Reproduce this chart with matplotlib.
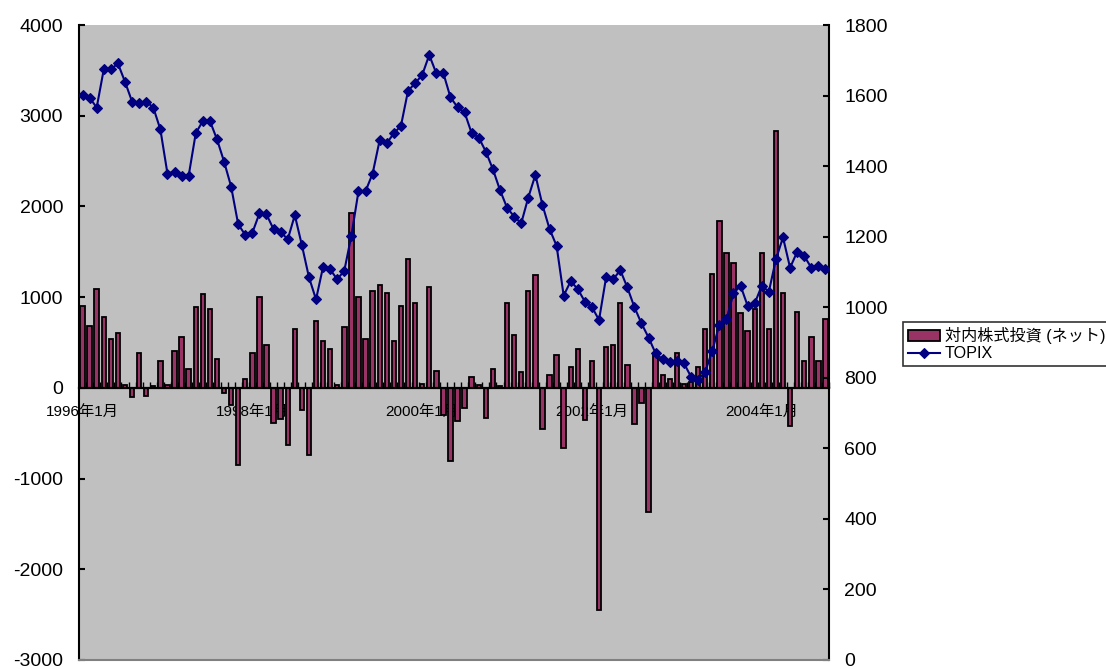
import numpy as np
import pandas as pd
import matplotlib
matplotlib.use("Agg")
import matplotlib.pyplot as plt
from matplotlib.ticker import MultipleLocator, FixedLocator

plt.rcParams['font.family'] = ['Liberation Sans', 'Noto Sans CJK JP']
plt.rcParams['axes.unicode_minus'] = False

# monthly series, Jan 1996 - Oct 2004
months = pd.date_range("1996-01-01", periods=106, freq="MS")

# net foreign buying of Japanese equities (left axis)
net_inflow = [
    900, 680, 1090, 780, 540, 610, 30, -100, 380, -90, 20, 300,
    30, 410, 560, 210, 890, 1030, 870, 320, -60, -190, -850, 100,
    380, 1000, 470, -390, -340, -630, 650, -240, -740, 740, 520, 430,
    30, 670, 1930, 1000, 540, 1070, 1130, 1050, 520, 900, 1420, 940,
    40, 1110, 190, -300, -810, -370, -220, 120, 30, -330, 210, 20,
    930, 580, 180, 1070, 1240, -450, 140, 360, -660, 230, 430, -350,
    300, -2450, 450, 470, 930, 250, -400, -170, -1370, 380, 140, 100,
    380, 40, 60, 230, 650, 1260, 1840, 1490, 1380, 830, 630, 870,
    1490, 650, 2830, 1050, -420, 840, 300, 560, 300, 760,
]

# TOPIX month-end level (right axis)
topix = [
    1601, 1594, 1566, 1674, 1674, 1691, 1639, 1583, 1578, 1583, 1566, 1504,
    1379, 1384, 1373, 1373, 1493, 1528, 1528, 1476, 1413, 1342, 1235, 1205,
    1211, 1266, 1263, 1221, 1214, 1192, 1261, 1176, 1085, 1022, 1115, 1107,
    1079, 1104, 1203, 1329, 1329, 1379, 1474, 1465, 1493, 1514, 1613, 1635,
    1658, 1715, 1663, 1663, 1595, 1567, 1552, 1493, 1481, 1441, 1391, 1332,
    1282, 1257, 1238, 1311, 1375, 1290, 1222, 1174, 1033, 1074, 1051, 1016,
    1000, 964, 1085, 1079, 1105, 1056, 1000, 954, 914, 869, 852, 846,
    848, 841, 803, 794, 817, 876, 950, 966, 1039, 1061, 1004, 1011,
    1061, 1044, 1136, 1198, 1112, 1157, 1145, 1112, 1118, 1107,
]

tick_labels = ["1996年1月", "1998年1月", "2000年1月", "2002年1月", "2004年1月"]

x = np.arange(len(months))

fig = plt.figure(figsize=(11.06, 6.69), dpi=100)
ax = fig.add_axes([79 / 1106, 1 - 660 / 669, 750 / 1106, 635 / 669])
ax.set_facecolor("#c0c0c0")

ax.bar(x, net_inflow, width=0.62, color="#993366", edgecolor="black",
       linewidth=1.3, label="対内株式投資 (ネット)", zorder=2)
ax.set_xlim(-0.5, len(x) - 0.5)
ax.set_ylim(-3000, 4000)
ax.yaxis.set_major_locator(MultipleLocator(1000))

# category axis sits on the zero line
ax.spines["bottom"].set_position(("data", 0))
ax.spines["bottom"].set_linewidth(1.6)
ax.spines["left"].set_linewidth(1.5)
ax.spines["top"].set_visible(False)
ax.spines["right"].set_visible(False)

ax.set_xticks(x[::24])
ax.set_xticklabels(tick_labels)
ax.xaxis.set_minor_locator(FixedLocator(np.arange(len(x) + 1) - 0.5))
ax.tick_params(axis="x", which="major", length=0, pad=12, labelsize=11)
ax.tick_params(axis="x", which="minor", direction="in", length=4.3, width=1.0)
ax.tick_params(axis="y", direction="in", length=4.3, width=1.5, labelsize=14, pad=11.5)

ax2 = ax.twinx()
ax2.plot(x, topix, color="#000080", lw=1.5, marker="D", ms=5, mew=0.8,
         label="TOPIX", zorder=3)
ax2.set_ylim(0, 1800)
ax2.yaxis.set_major_locator(MultipleLocator(200))
ax2.spines["top"].set_visible(False)
ax2.spines["left"].set_visible(False)
ax2.spines["right"].set_linewidth(1.5)
ax2.spines["bottom"].set_color("#808080")
ax2.spines["bottom"].set_linewidth(1.5)
ax2.tick_params(axis="y", direction="in", length=4.3, width=1.5, labelsize=14, pad=11)

h1, l1 = ax.get_legend_handles_labels()
h2, l2 = ax2.get_legend_handles_labels()
leg = fig.legend(h1 + h2, l1 + l2, loc="upper left",
                 bbox_to_anchor=(903 / 1106, 1 - 322 / 669),
                 fontsize=11.6, frameon=True, fancybox=False, edgecolor="black",
                 borderpad=0.3, labelspacing=0.15, handlelength=2.0,
                 handletextpad=0.3, borderaxespad=0)
leg.get_frame().set_linewidth(1.2)

fig.savefig("out.png", dpi=100)
